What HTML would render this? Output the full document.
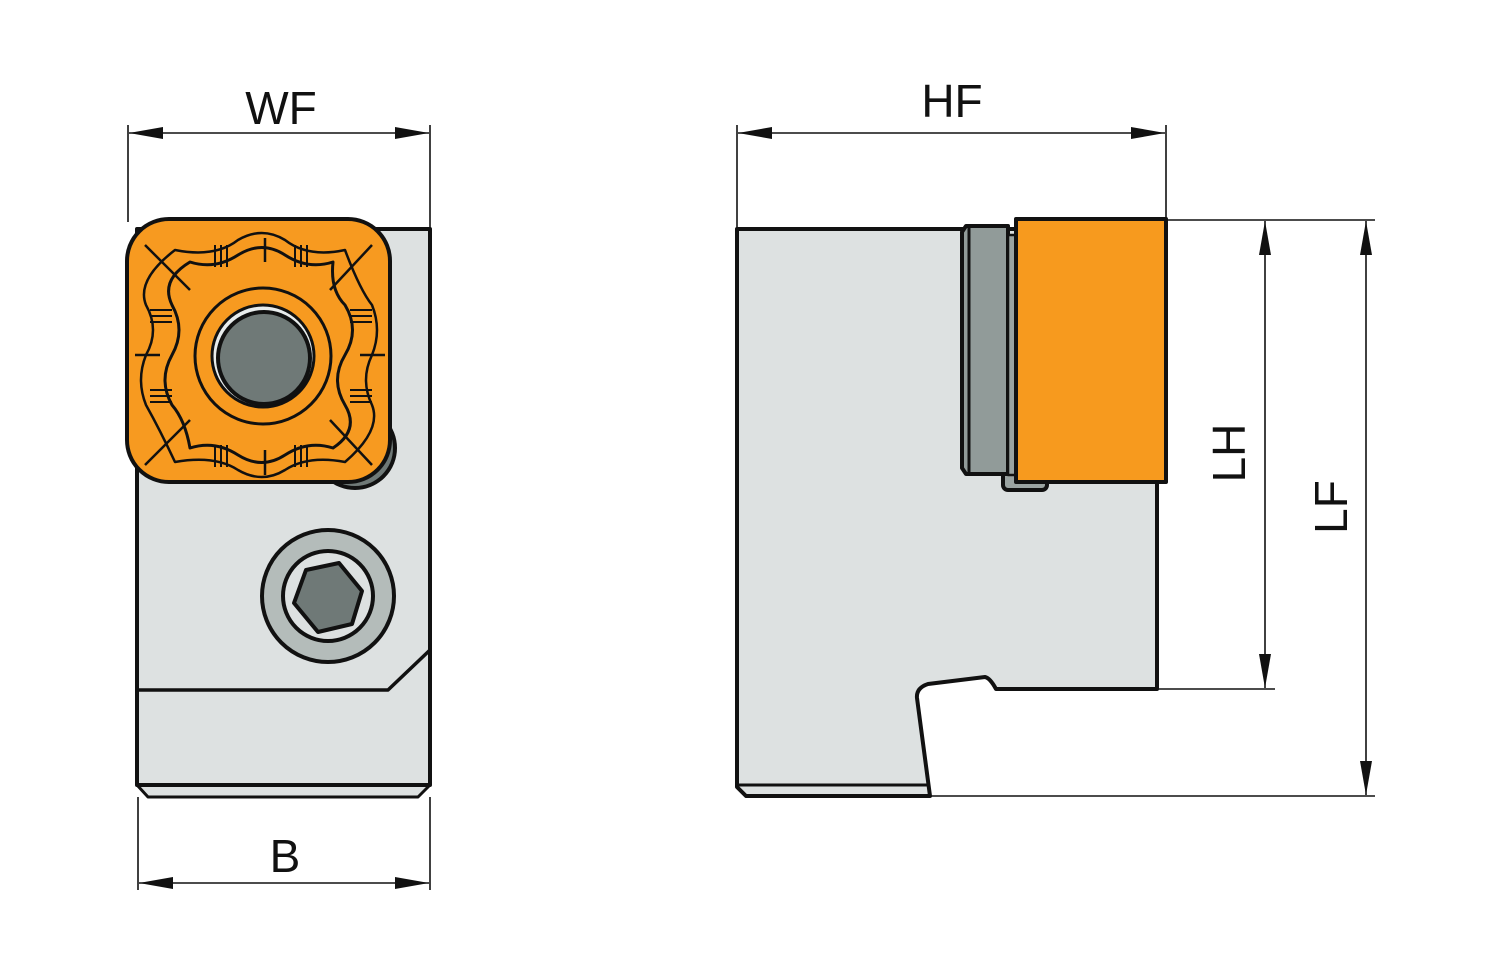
<!DOCTYPE html>
<html><head><meta charset="utf-8"><style>body{margin:0;background:#fff}svg{display:block}</style></head><body>
<svg width="1500" height="973" viewBox="0 0 1500 973" xmlns="http://www.w3.org/2000/svg">
<defs><marker id="a" viewBox="0 0 34 12" refX="34" refY="6" markerWidth="34" markerHeight="12" markerUnits="userSpaceOnUse" orient="auto-start-reverse"><path d="M0,0 L34,6 L0,12 Z" fill="#111"/></marker></defs>
<g stroke="#111" stroke-width="1.6" fill="none">
<line x1="128" y1="125" x2="128" y2="222"/><line x1="430" y1="125" x2="430" y2="229"/>
<line x1="129" y1="133" x2="429" y2="133" marker-start="url(#a)" marker-end="url(#a)"/>
<line x1="138" y1="797" x2="138" y2="890"/><line x1="430" y1="797" x2="430" y2="890"/>
<line x1="139" y1="883" x2="429" y2="883" marker-start="url(#a)" marker-end="url(#a)"/>
<line x1="737" y1="125" x2="737" y2="229"/><line x1="1166" y1="125" x2="1166" y2="218"/>
<line x1="738" y1="133" x2="1165" y2="133" marker-start="url(#a)" marker-end="url(#a)"/>
<line x1="1166" y1="220" x2="1375" y2="220"/><line x1="1157" y1="689" x2="1275" y2="689"/><line x1="930" y1="796" x2="1375" y2="796"/>
<line x1="1265" y1="221" x2="1265" y2="688" marker-start="url(#a)" marker-end="url(#a)"/>
<line x1="1366" y1="221" x2="1366" y2="795" marker-start="url(#a)" marker-end="url(#a)"/>
</g>
<g font-family="Liberation Sans, sans-serif" font-size="46" fill="#111" text-anchor="middle">
<text x="281" y="124">WF</text><text x="285" y="872">B</text><text x="952" y="117">HF</text>
<text transform="translate(1245,453) rotate(-90)">LH</text>
<text transform="translate(1347,507) rotate(-90)">LF</text>
</g>
<!-- left view -->
<g stroke="#111" stroke-width="4" stroke-linejoin="round">
<path d="M137,785 L148,797 L418,797 L430,785 Z" fill="#dde1e1" stroke-width="3"/>
<rect x="137" y="229" width="293" height="556" fill="#dde1e1"/>
<path d="M139,690 L388,690 L430,650" fill="none" stroke-width="3.5"/>
<circle cx="355" cy="448" r="40" fill="#6f7977"/>
<circle cx="328" cy="596" r="66" fill="#b4bcba"/>
<circle cx="328" cy="596" r="45" fill="#dde1e1"/>
<polygon points="306,570 339,563 362,591 352,624 318,632 294,603" fill="#6f7977"/>
<rect x="127" y="219" width="263" height="263" rx="42" fill="#f79a20"/>
<path d="M190,262 Q215,270 238,255 Q262,240 285,255 Q308,270 333,262 Q330,290 345,305 Q360,330 345,355 Q330,380 345,405 Q360,430 333,448 Q308,440 285,455 Q262,470 238,455 Q215,440 190,448 Q185,420 172,405 Q158,380 172,355 Q186,330 172,305 Q160,280 190,262 Z" fill="none" stroke-width="3"/>
<path d="M175,250 Q215,258 238,240 Q262,226 285,240 Q308,258 345,250 Q360,290 372,305 Q382,330 372,355 Q360,380 372,405 Q382,430 345,462 Q308,455 285,470 Q262,484 238,470 Q215,455 175,462 Q160,430 146,405 Q136,380 146,355 Q160,330 146,305 Q136,280 175,250 Z" fill="none" stroke-width="2.5"/>
<path d="M145,245 L190,290 M372,245 L330,290 M145,465 L190,420 M372,465 L330,420 M265,238 L265,262 M265,450 L265,475 M135,355 L160,355 M360,355 L385,355" stroke-width="2.5"/>
<g stroke-width="2"><path d="M215,245 v22 M221,245 v22 M227,245 v22 M295,245 v22 M301,245 v22 M307,245 v22 M215,445 v22 M221,445 v22 M227,445 v22 M295,445 v22 M301,445 v22 M307,445 v22 M150,310 h22 M150,316 h22 M150,322 h22 M150,390 h22 M150,396 h22 M150,402 h22 M350,310 h22 M350,316 h22 M350,322 h22 M350,390 h22 M350,396 h22 M350,402 h22"/></g>
<circle cx="263" cy="356" r="68" fill="none" stroke-width="3"/>
<circle cx="263" cy="356" r="51" fill="#e8ecec" stroke-width="3"/>
<circle cx="264" cy="358" r="46" fill="#6f7977"/>
</g>
<!-- right view -->
<g stroke="#111" stroke-width="4" stroke-linejoin="round">
<path d="M737,229 L965,229 L1157,229 L1157,689 L996,689 Q990,678 985,677 L928,684 Q916,688 917,698 L930,796 L746,796 L737,787 Z" fill="#dde1e1"/>
<line x1="737" y1="785" x2="927" y2="785" stroke-width="3"/>
<rect x="1003" y="470" width="44" height="20" rx="5" fill="#9aa3a1"/>
<path d="M966,226 L1008,226 L1008,474 L966,474 L962,468 L962,232 Z" fill="#919b99"/>
<line x1="969" y1="228" x2="969" y2="473" stroke-width="3"/>
<rect x="1008" y="235" width="8" height="240" fill="#9aa3a1" stroke-width="2.5"/>
<rect x="1016" y="219" width="150" height="263" fill="#f79a1e"/>
</g>
</svg>
</body></html>
